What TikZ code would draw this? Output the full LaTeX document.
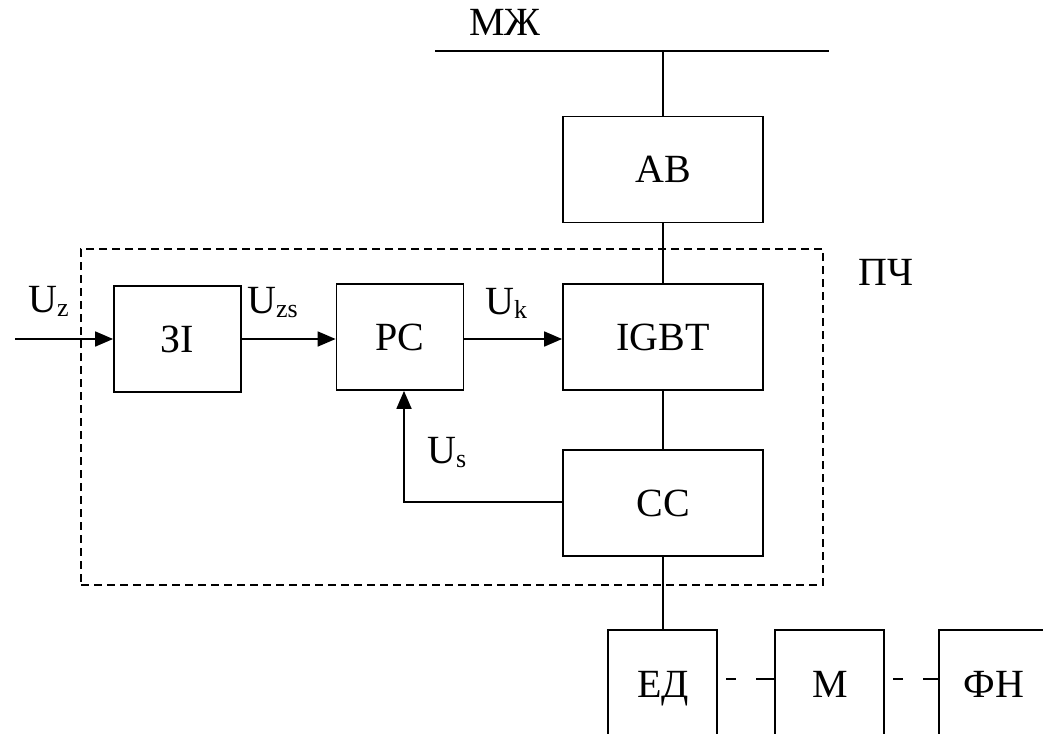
\documentclass[tikz,border=0pt]{standalone}
\usepackage{fontspec}
\setmainfont{Liberation Serif}
\usetikzlibrary{arrows.meta}
\newcommand{\sbs}[1]{\raisebox{-4pt}{\fontsize{26}{26}\selectfont #1}}
\begin{document}
\begin{tikzpicture}[x=1pt,y=-1pt,
  blk/.style={draw,line width=1.8pt,minimum width=200pt,minimum height=106pt,inner sep=0pt,font=\fontsize{40}{40}\selectfont},
  sblk/.style={draw,line width=1.8pt,minimum width=127pt,minimum height=106pt,inner sep=0pt,font=\fontsize{40}{40}\selectfont},
  ln/.style={line width=1.8pt},
  arr/.style={line width=1.8pt,-{Triangle[length=18pt,width=15pt]}},
  lbl/.style={font=\fontsize{40}{40}\selectfont,inner sep=0pt},
  ddash/.style={line width=1.8pt,dash pattern=on 0pt off 9pt on 10pt off 20pt on 20pt}]
\useasboundingbox (0,0) rectangle (1043,733);
% bus
\coordinate (busL) at (435,51);
\coordinate (busR) at (829,51);
\coordinate (busT) at (663,51);
\draw[ln] (busL) -- (busR);
\node[lbl,anchor=base] (mzh) at (505,36) {МЖ};
% blocks
\node[blk] (AB) at (663,169.5) {AB};
\node[blk] (IGBT) at (663,337) {IGBT};
\node[blk] (CC) at (663,503) {CC};
\node[sblk] (ZI) at (177.5,339) {ЗІ};
\node[sblk] (PC) at (400,337) {PC};
% dashed frame
\node[draw,line width=1.1pt,dash pattern=on 8pt off 5pt,minimum width=742pt,minimum height=336pt,inner sep=0pt] (PCh) at (452,417) {};
\node[lbl,anchor=base] (pch) at (886,285) {ПЧ};
% connections
\draw[ln] (busT) -- (AB.north);
\draw[ln] (AB.south) -- (IGBT.north);
\draw[ln] (IGBT.south) -- (CC.north);
\coordinate (in) at (15,339);
\draw[arr] (in) -- (ZI.west |- in);
\draw[arr] (ZI.east |- in) -- (PC.west |- in);
\draw[arr] (PC.east |- in) -- (IGBT.west |- in);
\coordinate (fb) at (404,502);
\draw[arr] (CC.west |- fb) -- (fb) -- (fb |- PC.south);
% labels
\node[lbl,anchor=base west] (uz) at (28,312) {U\sbs{z}};
\node[lbl,anchor=base west] (uzs) at (247,313) {U\sbs{zs}};
\node[lbl,anchor=base west] (uk) at (485,314) {U\sbs{k}};
\node[lbl,anchor=base west] (us) at (427,463) {U\sbs{s}};
% bottom blocks (open at the bottom)
\coordinate (ED) at (663,630);
\draw[ln] (608,745) -- (608,630) -- (717,630) -- (717,745);
\node[lbl,anchor=base] (edl) at (663,697) {ЕД};
\draw[ln] (775,745) -- (775,630) -- (884,630) -- (884,745);
\node[lbl,anchor=base] (ml) at (830,697) {М};
\draw[ln] (939,745) -- (939,630) -- (1050,630);
\node[lbl,anchor=base] (fnl) at (994,697) {ФН};
\draw[ln] (CC.south) -- (ED);
\coordinate (d1a) at (717,679);
\coordinate (d1b) at (775,679);
\coordinate (d2a) at (884,679);
\coordinate (d2b) at (939,679);
\draw[ddash] (d1a) -- (d1b);
\draw[ddash] (d2a) -- (d2b);
\end{tikzpicture}
\end{document}
